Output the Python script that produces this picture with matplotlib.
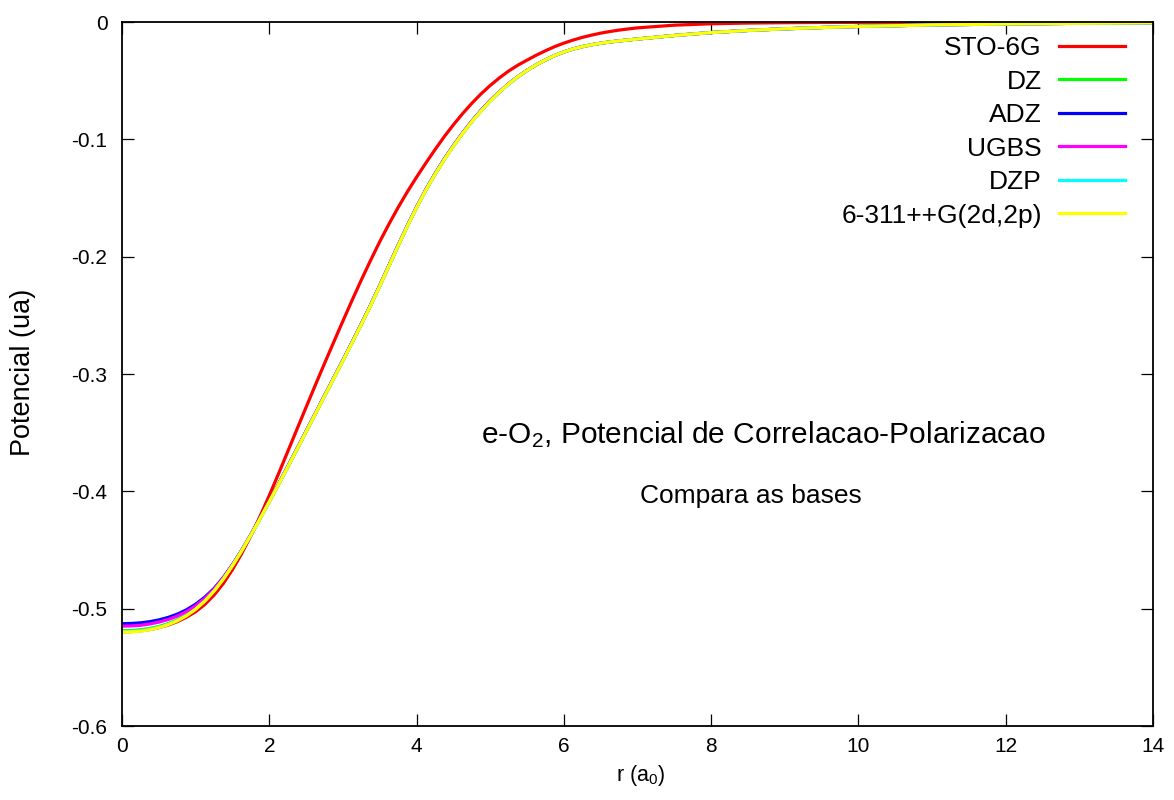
import matplotlib
matplotlib.use("Agg")
import matplotlib.pyplot as plt

plt.rcParams['font.family'] = ['Liberation Sans', 'DejaVu Sans']
plt.rcParams['mathtext.fontset'] = 'custom'
plt.rcParams['mathtext.rm'] = 'Liberation Sans'
plt.rcParams['mathtext.it'] = 'Liberation Sans:italic'
plt.rcParams['axes.unicode_minus'] = False

# ---- data ----
r = [0.0, 0.125, 0.25, 0.375, 0.5, 0.625, 0.75, 0.875,
     1.0, 1.125, 1.25, 1.375, 1.5, 1.625, 1.75, 1.875,
     2.0, 2.125, 2.25, 2.375, 2.5, 2.625, 2.75, 2.875,
     3.0, 3.125, 3.25, 3.375, 3.5, 3.625, 3.75, 3.875,
     4.0, 4.125, 4.25, 4.375, 4.5, 4.625, 4.75, 4.875,
     5.0, 5.125, 5.25, 5.375, 5.5, 5.625, 5.75, 5.875,
     6.0, 6.125, 6.25, 6.375, 6.5, 6.625, 6.75, 6.875,
     7.0, 7.5, 8.0, 8.5, 9.0, 9.5, 10.0, 11.0, 12.0, 13.0, 14.0]

sto6g = [-0.5197, -0.5195, -0.5189, -0.5178, -0.5162, -0.5140, -0.5111, -0.5073,
         -0.5026, -0.4964, -0.4884, -0.4786, -0.4667, -0.4531, -0.4379, -0.4212,
         -0.4035, -0.3851, -0.3662, -0.3472, -0.3283, -0.3095, -0.2910, -0.2728,
         -0.2548, -0.2371, -0.2198, -0.2032, -0.1872, -0.1722, -0.1580, -0.1447,
         -0.1322, -0.1203, -0.1088, -0.0978, -0.0876, -0.0781, -0.0693, -0.0613,
         -0.0541, -0.0476, -0.0418, -0.0368, -0.0325, -0.0283, -0.0245, -0.0210,
         -0.0180, -0.0154, -0.0131, -0.0112, -0.0095, -0.0081, -0.0069, -0.0059,
         -0.0050, -0.0027, -0.0015, -0.0009, -0.0006, -0.0004, -0.0003, -0.0002,
         -0.0001, -0.0001, 0.0]

dz = [-0.5188, -0.5186, -0.5180, -0.5169, -0.5152, -0.5128, -0.5096, -0.5054,
      -0.5000, -0.4931, -0.4847, -0.4746, -0.4632, -0.4506, -0.4372, -0.4232,
      -0.4088, -0.3941, -0.3793, -0.3642, -0.3491, -0.3340, -0.3188, -0.3037,
      -0.2885, -0.2732, -0.2576, -0.2416, -0.2249, -0.2078, -0.1906, -0.1739,
      -0.1581, -0.1433, -0.1298, -0.1173, -0.1057, -0.0949, -0.0849, -0.0757,
      -0.0673, -0.0597, -0.0528, -0.0467, -0.0413, -0.0365, -0.0323, -0.0286,
      -0.0255, -0.0230, -0.0210, -0.0194, -0.0181, -0.0170, -0.0161, -0.0153,
      -0.0145, -0.0115, -0.0090, -0.0072, -0.0058, -0.0047, -0.0038, -0.0025,
      -0.0017, -0.0011, -0.0007]

adz = [-0.5128, -0.5126, -0.5121, -0.5111, -0.5096, -0.5075, -0.5047, -0.5010,
       -0.4962, -0.4902, -0.4828, -0.4735, -0.4625, -0.4502, -0.4368, -0.4228,
       -0.4084, -0.3937, -0.3789, -0.3638, -0.3487, -0.3336, -0.3184, -0.3033,
       -0.2881, -0.2728, -0.2572, -0.2412, -0.2245, -0.2074, -0.1902, -0.1735,
       -0.1577, -0.1429, -0.1294, -0.1169, -0.1053, -0.0945, -0.0845, -0.0753,
       -0.0669, -0.0595, -0.0526, -0.0466, -0.0412, -0.0365, -0.0323, -0.0286,
       -0.0255, -0.0230, -0.0210, -0.0194, -0.0181, -0.0170, -0.0161, -0.0153,
       -0.0145, -0.0115, -0.0090, -0.0072, -0.0058, -0.0047, -0.0038, -0.0025,
       -0.0017, -0.0011, -0.0007]

ugbs = [-0.5149, -0.5147, -0.5142, -0.5131, -0.5115, -0.5093, -0.5064, -0.5025,
        -0.4975, -0.4912, -0.4834, -0.4738, -0.4626, -0.4503, -0.4369, -0.4229,
        -0.4085, -0.3938, -0.3790, -0.3639, -0.3488, -0.3337, -0.3185, -0.3034,
        -0.2882, -0.2729, -0.2573, -0.2413, -0.2246, -0.2075, -0.1903, -0.1736,
        -0.1578, -0.1430, -0.1295, -0.1170, -0.1054, -0.0946, -0.0846, -0.0754,
        -0.0670, -0.0595, -0.0526, -0.0466, -0.0412, -0.0365, -0.0323, -0.0286,
        -0.0255, -0.0230, -0.0210, -0.0194, -0.0181, -0.0170, -0.0161, -0.0153,
        -0.0145, -0.0115, -0.0090, -0.0072, -0.0058, -0.0047, -0.0038, -0.0025,
        -0.0017, -0.0011, -0.0007]

dzp = [-0.5195, -0.5193, -0.5187, -0.5176, -0.5158, -0.5134, -0.5101, -0.5059,
       -0.5004, -0.4935, -0.4850, -0.4748, -0.4633, -0.4507, -0.4373, -0.4233,
       -0.4089, -0.3942, -0.3794, -0.3643, -0.3492, -0.3341, -0.3189, -0.3038,
       -0.2886, -0.2733, -0.2577, -0.2417, -0.2250, -0.2079, -0.1907, -0.1740,
       -0.1582, -0.1434, -0.1299, -0.1174, -0.1058, -0.0950, -0.0850, -0.0758,
       -0.0674, -0.0597, -0.0528, -0.0467, -0.0413, -0.0365, -0.0323, -0.0286,
       -0.0255, -0.0230, -0.0210, -0.0194, -0.0181, -0.0170, -0.0161, -0.0153,
       -0.0145, -0.0115, -0.0090, -0.0072, -0.0058, -0.0047, -0.0038, -0.0025,
       -0.0017, -0.0011, -0.0007]

g6311 = [-0.5200, -0.5198, -0.5192, -0.5180, -0.5162, -0.5137, -0.5104, -0.5061,
         -0.5005, -0.4935, -0.4850, -0.4748, -0.4633, -0.4507, -0.4373, -0.4233,
         -0.4089, -0.3942, -0.3794, -0.3643, -0.3492, -0.3341, -0.3189, -0.3038,
         -0.2886, -0.2733, -0.2577, -0.2417, -0.2250, -0.2079, -0.1907, -0.1740,
         -0.1582, -0.1434, -0.1299, -0.1174, -0.1058, -0.0950, -0.0850, -0.0758,
         -0.0674, -0.0597, -0.0528, -0.0467, -0.0413, -0.0365, -0.0323, -0.0286,
         -0.0255, -0.0230, -0.0210, -0.0194, -0.0181, -0.0170, -0.0161, -0.0153,
         -0.0145, -0.0115, -0.0090, -0.0072, -0.0058, -0.0047, -0.0038, -0.0025,
         -0.0017, -0.0011, -0.0007]

series_names = ["STO-6G", "DZ", "ADZ", "UGBS", "DZP", "6-311++G(2d,2p)"]
series_vals = [sto6g, dz, adz, ugbs, dzp, g6311]
series_colors = ["#ff0000", "#00ff00", "#0000ff", "#ff00ff", "#00ffff", "#ffff00"]

xticks = [0, 2, 4, 6, 8, 10, 12, 14]
xticklabels = ["0", "2", "4", "6", "8", "10", "12", "14"]
yticks = [0.0, -0.1, -0.2, -0.3, -0.4, -0.5, -0.6]
yticklabels = ["0", "-0.1", "-0.2", "-0.3", "-0.4", "-0.5", "-0.6"]

# ---- figure ----
fig = plt.figure(figsize=(11.74, 8.0), dpi=100)
ax = fig.add_axes([122/1174, 1 - 726/800, (1153-122)/1174, (726-22)/800])

for name, vals, col in zip(series_names, series_vals, series_colors):
    ax.plot(r, vals, color=col, lw=2.3, label=name, solid_joinstyle='round')

ax.set_xlim(0, 14)
ax.set_ylim(-0.6, 0)
ax.set_xticks(xticks)
ax.set_xticklabels(xticklabels)
ax.set_yticks(yticks)
ax.set_yticklabels(yticklabels)
ax.tick_params(direction='in', length=8.6, width=0.9, top=True, right=True,
               labelsize=15, colors='black')
ax.tick_params(axis='y', pad=10.5)
ax.tick_params(axis='x', pad=8)
for s in ax.spines.values():
    s.set_linewidth(1.3)
    s.set_color('black')

ax.set_xlabel(r"r (a$\mathregular{_0}$)", fontsize=15.5, va='top')
ax.xaxis.set_label_coords(0.503, -0.052)
ax.set_ylabel("Potencial (ua)", fontsize=19.5)
ax.yaxis.set_label_coords(-0.083, 0.503)

ax.text(0.6217, 0.402, r"e-O$\mathregular{_2}$, Potencial de Correlacao-Polarizacao",
        transform=ax.transAxes, ha='center', va='baseline', fontsize=21.5)
ax.text(0.6096, 0.3168, "Compara as bases", transform=ax.transAxes,
        ha='center', va='baseline', fontsize=19)

leg = ax.legend(loc='upper right', bbox_to_anchor=(0.9729, 0.980), markerfirst=False,
                frameon=False, fontsize=19, handlelength=2.5, handletextpad=0.65,
                labelspacing=0.36, borderpad=0, borderaxespad=0)

fig.savefig("out.png", dpi=100)
